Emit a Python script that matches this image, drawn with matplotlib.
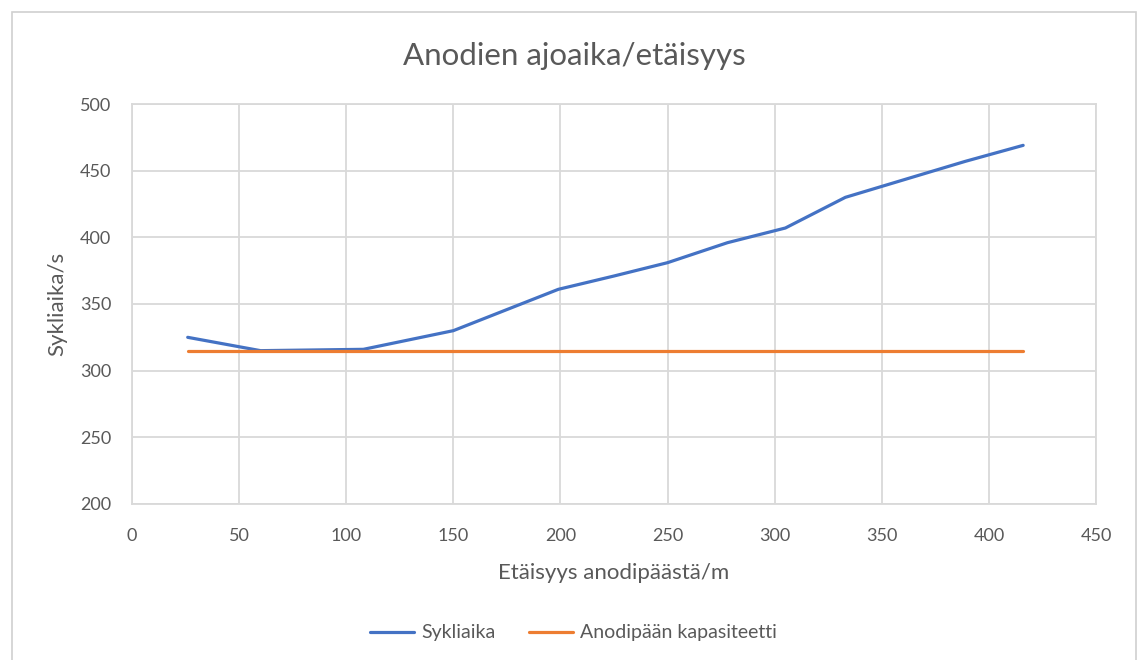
import matplotlib.pyplot as plt
from matplotlib.patches import Rectangle

# data
etaisyys = [26, 60, 108, 150, 199, 225, 250, 278, 305, 333, 362, 389, 416]
sykliaika = [325, 315, 316, 330, 361, 371, 381, 396, 407, 430, 444, 457, 469]
kapasiteetti = [315] * len(etaisyys)

x_ticks = [0, 50, 100, 150, 200, 250, 300, 350, 400, 450]
y_ticks = [200, 250, 300, 350, 400, 450, 500]

plt.rcParams['font.family'] = ['Lato', 'DejaVu Sans']
text_col = '#595959'
grid_col = '#D9D9D9'

fig = plt.figure(figsize=(11.4, 6.6), dpi=100)
ax = fig.add_axes([0.1158, 0.2364, 0.8456, 0.606])

ax.plot(etaisyys, sykliaika, color='#4472C4', lw=2.3, label='Sykliaika',
        solid_capstyle='round')
ax.plot(etaisyys, kapasiteetti, color='#ED7D31', lw=2.3,
        label='Anodipään kapasiteetti', solid_capstyle='round')

ax.set_xlim(0, 450)
ax.set_ylim(200, 500)
ax.set_xticks(x_ticks)
ax.set_yticks(y_ticks)
ax.grid(True, color=grid_col, lw=1.3)
ax.set_axisbelow(True)
ax.tick_params(length=0, labelsize=13, colors=text_col)
ax.tick_params(axis='x', pad=17)
ax.tick_params(axis='y', pad=15)
for s in ax.spines.values():
    s.set_color(grid_col)
    s.set_linewidth(1.3)

ax.set_xlabel('Etäisyys anodipäästä/m', fontsize=16, color=text_col, labelpad=14)
ax.set_ylabel('Sykliaika/s', fontsize=16, color=text_col, labelpad=9)
fig.text(0.504, 0.915, 'Anodien ajoaika/etäisyys', ha='center', va='center',
         fontsize=22.5, color=text_col)

fig.legend(loc='center', bbox_to_anchor=(0.503, 0.041), ncol=2, frameon=False,
           fontsize=14, handlelength=2.3, columnspacing=1.7, handletextpad=0.36,
           labelcolor=text_col)

# chart area border
fig.patches.append(Rectangle((12 / 1140, -0.01), 1124 / 1140, 1 - 12 / 660 + 0.01,
                             transform=fig.transFigure, fill=False,
                             edgecolor='#D0D0D0', lw=1.2))

fig.savefig('out.png', dpi=100)
